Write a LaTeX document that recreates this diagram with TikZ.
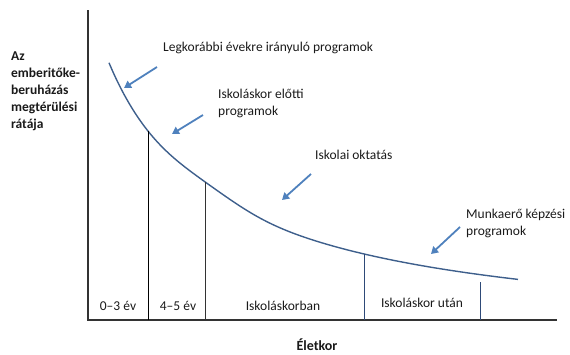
\documentclass[tikz,border=0pt]{standalone}
\usepackage{fontspec}
\setmainfont{Carlito}
\usetikzlibrary{arrows.meta}
\definecolor{curveblue}{HTML}{3E5F8C}
\definecolor{arrowblue}{HTML}{4F81BD}
\definecolor{lineblue}{HTML}{2E4A78}
\definecolor{axisgray}{HTML}{333333}
\definecolor{txt}{HTML}{1A1A1A}
\tikzset{
  declare function={ret(\t)=340.6-321.21/((\t+6.69)/100)-7*exp(-((\t-205)/50)^2);},
  axisline/.style={draw=axisgray, line width=1.4pt},
  bound/.style={draw=#1, line width=0.9pt},
  pointer/.style={draw=arrowblue, line width=1.8pt, -{Triangle[length=7pt,width=8pt]}},
  lbl/.style={text=txt, font=\fontsize{13.5}{17}\selectfont, inner sep=0pt, align=left},
  agelbl/.style={text=txt, font=\fontsize{13.5}{16}\selectfont, inner sep=0pt},
  ylbl/.style={text=txt, font=\bfseries\fontsize{13.5}{17}\selectfont, inner sep=0pt, align=left}
}
\begin{document}
\begin{tikzpicture}[x=1pt, y=-1pt]
\useasboundingbox (0,0) rectangle (570,354);

% axes
\coordinate (o) at (88,320);
\coordinate (ytop) at (88,10);
\coordinate (xend) at (557,320);
\draw[axisline] (ytop) -- (o) -- (xend);

% return curve
\draw[curveblue, line width=1.4pt] plot[domain=109:518, samples=120, smooth] (\x,{ret(\x)});

% age boundaries
\coordinate (c1) at (148,{ret(148)});
\coordinate (c2) at (205,{ret(205)});
\coordinate (c3) at (364,{ret(364)});
\coordinate (c4) at (480,282);
\coordinate (b1) at (148,320);
\coordinate (b2) at (205,320);
\coordinate (b3) at (364,320);
\coordinate (b4) at (480,320);
\draw[bound=black] (c1) -- (b1);
\draw[bound=axisgray] (c2) -- (b2);
\draw[bound=lineblue] (c3) -- (b3);
\draw[bound=lineblue] (c4) -- (b4);

% age labels
\node[agelbl] (a1) at (118,306) {0–3 év};
\node[agelbl] (a2) at (178,306) {4–5 év};
\node[agelbl] (a3) at (283,306) {Iskoláskorban};
\node[agelbl] (a4) at (422,303) {Iskoláskor után};

% axis titles
\node[text=txt, font=\bfseries\fontsize{14}{16}\selectfont, inner sep=0pt] (xt) at (317,345) {Életkor};
\node[ylbl, anchor=north west] (yt) at (11,52) {Az\\emberitőke-\\beruházás\\megtérülési\\rátája};

% programme labels
\node[lbl, anchor=west] (p1) at (163,48) {Legkorábbi évekre irányuló programok};
\node[lbl, anchor=north west] (p2) at (218,89) {Iskoláskor előtti\\programok};
\node[lbl, anchor=west] (p3) at (315,155) {Iskolai oktatás};
\node[lbl, anchor=north west] (p4) at (466,209) {Munkaerő képzési\\programok};

% pointers
\coordinate (t1) at (157,67);  \coordinate (h1) at (124,88);
\coordinate (t2) at (203,115); \coordinate (h2) at (172,134);
\coordinate (t3) at (311,174); \coordinate (h3) at (282,200);
\coordinate (t4) at (460,227); \coordinate (h4) at (431,254);
\draw[pointer] (t1) -- (h1);
\draw[pointer] (t2) -- (h2);
\draw[pointer] (t3) -- (h3);
\draw[pointer] (t4) -- (h4);
\end{tikzpicture}
\end{document}
